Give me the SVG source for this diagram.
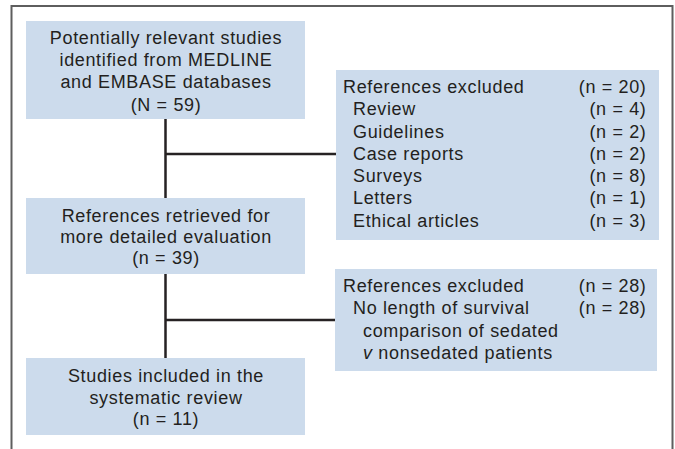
<svg xmlns="http://www.w3.org/2000/svg" width="675" height="449" viewBox="0 0 675 449">
  <style>
    .frame { fill: none; stroke: #5e5e5e; stroke-width: 2; }
    .box { fill: #ccdbec; }
    .link { fill: none; stroke: #262223; stroke-width: 2.5; }
    text { font-family: "Liberation Sans", Arial, sans-serif; font-size: 18px; fill: #231f20; letter-spacing: 0.65px; }
    .c { text-anchor: middle; }
    .r { text-anchor: end; }
    .it { font-style: italic; }
  </style>

  <rect x="0" y="0" width="675" height="449" fill="#ffffff"/>
  <!-- open-bottomed outer frame -->
  <path class="frame" d="M11.5,449 V6 H672.5 V449"/>

  <g id="connectors">
    <path class="link" d="M165.5,119 V198 M165.5,154 H336"/>
    <path class="link" d="M165.5,274 V358 M165.5,320 H335"/>
  </g>

  <g id="identified">
    <rect class="box" x="26" y="21" width="279" height="98"/>
    <text class="c" x="166" y="43.5">Potentially relevant studies</text>
    <text class="c" x="166" y="66">identified from MEDLINE</text>
    <text class="c" x="166" y="88.3">and EMBASE databases</text>
    <text class="c" x="166" y="110.5">(N = 59)</text>
  </g>

  <g id="excluded-first">
    <rect class="box" x="336" y="70" width="323" height="170"/>
    <text x="343" y="93">References excluded</text>
    <text class="r" x="646.5" y="93">(n = 20)</text>
    <text x="353" y="115">Review</text>
    <text class="r" x="646.5" y="115">(n = 4)</text>
    <text x="353" y="137.5">Guidelines</text>
    <text class="r" x="646.5" y="137.5">(n = 2)</text>
    <text x="353" y="159.5">Case reports</text>
    <text class="r" x="646.5" y="159.5">(n = 2)</text>
    <text x="353" y="182">Surveys</text>
    <text class="r" x="646.5" y="182">(n = 8)</text>
    <text x="353" y="204">Letters</text>
    <text class="r" x="646.5" y="204">(n = 1)</text>
    <text x="353" y="226.5">Ethical articles</text>
    <text class="r" x="646.5" y="226.5">(n = 3)</text>
  </g>

  <g id="retrieved">
    <rect class="box" x="26" y="198" width="279" height="76"/>
    <text class="c" x="166" y="221.5">References retrieved for</text>
    <text class="c" x="166" y="243">more detailed evaluation</text>
    <text class="c" x="166" y="264">(n = 39)</text>
  </g>

  <g id="excluded-second">
    <rect class="box" x="335" y="269" width="322" height="102"/>
    <text x="343" y="292">References excluded</text>
    <text class="r" x="646.5" y="292">(n = 28)</text>
    <text x="353" y="314">No length of survival</text>
    <text class="r" x="646.5" y="314">(n = 28)</text>
    <text x="363" y="336.5">comparison of sedated</text>
    <text x="363" y="358.5"><tspan class="it">v</tspan> nonsedated patients</text>
  </g>

  <g id="included">
    <rect class="box" x="26" y="358" width="279" height="77"/>
    <text class="c" x="166" y="382">Studies included in the</text>
    <text class="c" x="166" y="404">systematic review</text>
    <text class="c" x="166" y="425">(n = 11)</text>
  </g>
</svg>
